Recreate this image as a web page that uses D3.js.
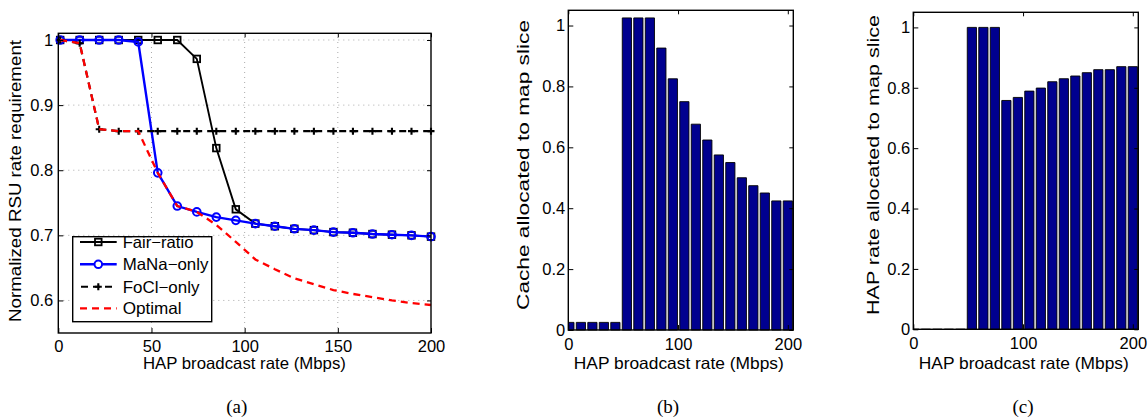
<!DOCTYPE html>
<html><head><meta charset="utf-8">
<script src="https://cdn.jsdelivr.net/npm/d3@7"></script>
<style>body{margin:0;background:#fff}svg{display:block}</style>
</head><body>
<svg id="chart" width="1148" height="419"></svg>
<script>
// ---------- data ----------
const rateX = [1, 11.47, 21.95, 32.42, 42.89, 53.37, 63.84, 74.32, 84.79, 95.26, 105.74, 116.21, 126.68, 137.16, 147.63, 158.11, 168.58, 179.05, 189.53, 200];
const fairRatio = [1, 1, 1, 1, 1, 1, 1, 0.971, 0.834, 0.740, 0.718, 0.714, 0.710, 0.708, 0.705, 0.704, 0.702, 0.701, 0.700, 0.698];
const manaOnly  = [1, 1, 1, 1, 0.997, 0.796, 0.745, 0.736, 0.728, 0.723, 0.718, 0.714, 0.710, 0.708, 0.705, 0.704, 0.702, 0.701, 0.700, 0.698];
const fociOnly  = [1, 0.995, 0.863, 0.86, 0.86, 0.86, 0.86, 0.86, 0.86, 0.86, 0.86, 0.86, 0.86, 0.86, 0.86, 0.86, 0.86, 0.86, 0.86, 0.86];
const optimal   = [1, 0.995, 0.863, 0.86, 0.86, 0.796, 0.745, 0.736, 0.716, 0.690, 0.663, 0.648, 0.634, 0.625, 0.616, 0.610, 0.605, 0.600, 0.596, 0.593];
const cacheAlloc = [0.025, 0.025, 0.025, 0.025, 0.025, 1.025, 1.025, 1.025, 0.926, 0.825, 0.750, 0.676, 0.624, 0.575, 0.550, 0.500, 0.474, 0.450, 0.424, 0.424];
const hapAlloc   = [0, 0, 0, 0, 0, 1, 1, 1, 0.758, 0.768, 0.789, 0.799, 0.820, 0.830, 0.839, 0.850, 0.860, 0.860, 0.870, 0.870];
const ticksA_x = [0, 50, 100, 150, 200];
const ticksA_y = [0.6, 0.7, 0.8, 0.9, 1];
const ticksB_x = [0, 100, 200];
const ticksB_y = [0, 0.2, 0.4, 0.6, 0.8, 1];
const legendNames = ["Fair\u2212ratio", "MaNa\u2212only", "FoCl\u2212only", "Optimal"];
const captions = ["(a)", "(b)", "(c)"];
const xLabel = "HAP broadcast rate (Mbps)";
const yLabels = ["Normalized RSU rate requirement", "Cache allocated to map slice", "HAP rate allocated to map slice"];

const svg = d3.select("#chart");
const FONT = "'Liberation Sans', Arial, Helvetica, sans-serif";
const FS = 16.5;
const fmtY = v => (v === 1 || v === 0) ? String(v) : d3.format(".1f")(v);

function frame(g, x, y, xt, yt, opt) {
  const [x0, x1] = x.range(), [y0, y1] = y.range();
  const ax = g.append("g").attr("transform", `translate(0,${y0})`)
    .call(d3.axisBottom(x).tickValues(xt).tickSizeInner(-5).tickSizeOuter(0).tickPadding(opt.xpad).tickFormat(d3.format("d")));
  const ay = g.append("g").attr("transform", `translate(${x0},0)`)
    .call(d3.axisLeft(y).tickValues(yt).tickSizeInner(-5).tickSizeOuter(0).tickPadding(opt.ypad).tickFormat(fmtY));
  const at = g.append("g").attr("transform", `translate(0,${y1})`)
    .call(d3.axisTop(x).tickValues(xt).tickSizeInner(-4).tickSizeOuter(0).tickFormat(""));
  const ar = g.append("g").attr("transform", `translate(${x1},0)`)
    .call(d3.axisRight(y).tickValues(yt).tickSizeInner(-4).tickSizeOuter(0).tickFormat(""));
  [ax, ay, at, ar].forEach(a => {
    a.select(".domain").remove();
    a.selectAll("line").attr("stroke", "#000").attr("stroke-width", 1);
    a.selectAll("text").attr("font-family", FONT).attr("font-size", FS).attr("fill", "#000");
  });
  g.append("rect").attr("x", x0).attr("y", y1).attr("width", x1 - x0).attr("height", y0 - y1)
    .attr("fill", "none").attr("stroke", "#000").attr("stroke-width", 1.4);
}

// ---------- panel (a) ----------
{
  const x = d3.scaleLinear().domain([0, 200]).range([58.3, 431]);
  const y = d3.scaleLinear().domain([0.55, 1.0103]).range([333, 33.3]);
  const g = svg.append("g");
  // grid
  g.append("g").selectAll("line").data(ticksA_x.slice(1, -1)).join("line")
    .attr("x1", d => x(d)).attr("x2", d => x(d)).attr("y1", y.range()[0]).attr("y2", y.range()[1])
    .attr("stroke", "#aaa").attr("stroke-width", 1).attr("stroke-dasharray", "1,4");
  g.append("g").selectAll("line").data(ticksA_y).join("line")
    .attr("x1", x.range()[0]).attr("x2", x.range()[1]).attr("y1", d => y(d)).attr("y2", d => y(d))
    .attr("stroke", "#aaa").attr("stroke-width", 1).attr("stroke-dasharray", "1,4");

  const line = d3.line().x(d => x(d[0])).y(d => y(d[1]));
  const pts = arr => rateX.map((v, i) => [v, arr[i]]);

  // Fair-ratio
  g.append("path").attr("d", line(pts(fairRatio))).attr("fill", "none").attr("stroke", "#000").attr("stroke-width", 1.9);
  g.append("g").selectAll("rect").data(pts(fairRatio)).join("rect")
    .attr("x", d => x(d[0]) - 3.3).attr("y", d => y(d[1]) - 3.3).attr("width", 6.6).attr("height", 6.6)
    .attr("fill", "none").attr("stroke", "#000").attr("stroke-width", 1.8);
  // MaNa-only
  g.append("path").attr("d", line(pts(manaOnly))).attr("fill", "none").attr("stroke", "#0000ff").attr("stroke-width", 2.4);
  g.append("g").selectAll("circle").data(pts(manaOnly)).join("circle")
    .attr("cx", d => x(d[0])).attr("cy", d => y(d[1])).attr("r", 3.8)
    .attr("fill", "none").attr("stroke", "#0000ff").attr("stroke-width", 2);
  // FoCl-only
  g.append("path").attr("d", line(pts(fociOnly))).attr("fill", "none").attr("stroke", "#000").attr("stroke-width", 2.1)
    .attr("stroke-dasharray", "7,5");
  g.append("g").selectAll("path").data(pts(fociOnly)).join("path")
    .attr("d", d => `M${x(d[0]) - 3.5},${y(d[1])}H${x(d[0]) + 3.5}M${x(d[0])},${y(d[1]) - 3.5}V${y(d[1]) + 3.5}`)
    .attr("stroke", "#000").attr("stroke-width", 2.1);
  // Optimal
  g.append("path").attr("d", line(pts(optimal))).attr("fill", "none").attr("stroke", "#ff0000").attr("stroke-width", 2.3)
    .attr("stroke-dasharray", "7,5");

  frame(g, x, y, ticksA_x, ticksA_y, { xpad: 7, ypad: 5 });

  // legend
  const lg = g.append("g");
  lg.append("rect").attr("x", 72.7).attr("y", 236.7).attr("width", 139).attr("height", 85)
    .attr("fill", "#fff").attr("stroke", "#000").attr("stroke-width", 1.4);
  const rows = [242, 264.3, 286.7, 308.3];
  const lens = [70.7, 85.7, 76.7, 59];
  const sx0 = 80, sx1 = 116.7, sc = 98.3;
  // Fair
  lg.append("line").attr("x1", sx0).attr("x2", sx1).attr("y1", rows[0]).attr("y2", rows[0]).attr("stroke", "#000").attr("stroke-width", 1.9);
  lg.append("rect").attr("x", sc - 3.3).attr("y", rows[0] - 3.3).attr("width", 6.6).attr("height", 6.6).attr("fill", "none").attr("stroke", "#000").attr("stroke-width", 1.8);
  // MaNa
  lg.append("line").attr("x1", sx0).attr("x2", sx1).attr("y1", rows[1]).attr("y2", rows[1]).attr("stroke", "#0000ff").attr("stroke-width", 2.4);
  lg.append("circle").attr("cx", sc).attr("cy", rows[1]).attr("r", 3.8).attr("fill", "#fff").attr("stroke", "#0000ff").attr("stroke-width", 2);
  // FoCl
  lg.append("line").attr("x1", sx0).attr("x2", sx1).attr("y1", rows[2]).attr("y2", rows[2]).attr("stroke", "#000").attr("stroke-width", 2.1).attr("stroke-dasharray", "7,5").attr("stroke-dashoffset", -1);
  lg.append("path").attr("d", `M${sc - 3.5},${rows[2]}H${sc + 3.5}M${sc},${rows[2] - 3.5}V${rows[2] + 3.5}`).attr("stroke", "#000").attr("stroke-width", 2.1);
  // Optimal
  lg.append("line").attr("x1", sx0).attr("x2", sx1).attr("y1", rows[3]).attr("y2", rows[3]).attr("stroke", "#ff0000").attr("stroke-width", 2.3).attr("stroke-dasharray", "7,5");
  lg.selectAll("text").data(legendNames).join("text")
    .attr("x", 122.7).attr("y", (d, i) => rows[i] + 6).attr("textLength", (d, i) => lens[i]).attr("lengthAdjust", "spacingAndGlyphs")
    .attr("font-family", FONT).attr("font-size", FS).text(d => d);
}

// ---------- bar panels ----------
function barPanel(vals, box, ylab, labY, labLen, labX) {
  const x = d3.scaleLinear().domain([0, 205]).range([box.l, box.r]);
  const y = d3.scaleLinear().domain([0, 1.05]).range([box.b, box.t]);
  const g = svg.append("g");
  const id = "clip" + Math.round(box.l);
  g.append("clipPath").attr("id", id).append("rect").attr("x", box.l).attr("y", box.t - 2).attr("width", box.r - box.l).attr("height", box.b - box.t + 4);
  const hw = 0.4 * 10.47;
  g.append("g").attr("clip-path", `url(#${id})`).selectAll("path").data(vals).join("path")
    .attr("d", (d, i) => {
      const a = x(rateX[i] - hw), b = x(rateX[i] + hw), yb = y(0), yt = y(d);
      return `M${a},${yb}V${yt}H${b}V${yb}Z`;
    })
    .attr("fill", "#00008f").attr("stroke", "#000").attr("stroke-width", 0.9);
  frame(g, x, y, ticksB_x, ticksB_y, { xpad: 7.8, ypad: 3 });
  g.append("text").attr("transform", `translate(${labX},${labY}) rotate(-90)`).attr("text-anchor", "middle")
    .attr("textLength", labLen).attr("lengthAdjust", "spacingAndGlyphs")
    .attr("font-family", FONT).attr("font-size", FS).text(ylab);
  g.append("text").attr("x", (box.l + box.r) / 2 - 2).attr("y", 369).attr("text-anchor", "middle")
    .attr("textLength", 210).attr("lengthAdjust", "spacingAndGlyphs")
    .attr("font-family", FONT).attr("font-size", FS).text(xLabel);
}
barPanel(cacheAlloc, { l: 568.3, r: 793.3, t: 10.3, b: 330 }, yLabels[1], 165, 290, 528.5);
barPanel(hapAlloc, { l: 913.3, r: 1138.3, t: 12.3, b: 329.3 }, yLabels[2], 165, 300, 878.5);

// panel (a) axis labels
svg.append("text").attr("x", 244.4).attr("y", 369).attr("text-anchor", "middle")
  .attr("textLength", 203).attr("lengthAdjust", "spacingAndGlyphs")
  .attr("font-family", FONT).attr("font-size", FS).text(xLabel);
svg.append("text").attr("transform", "translate(21,181) rotate(-90)").attr("text-anchor", "middle")
  .attr("textLength", 282).attr("lengthAdjust", "spacingAndGlyphs")
  .attr("font-family", FONT).attr("font-size", FS).text(yLabels[0]);

// captions
svg.selectAll("text.cap").data(captions).join("text").attr("class", "cap")
  .attr("x", (d, i) => [236.7, 668, 1023][i]).attr("y", 413).attr("text-anchor", "middle")
  .attr("font-family", "'Liberation Serif', 'Times New Roman', serif").attr("font-size", 19).text(d => d);
</script>
</body></html>
